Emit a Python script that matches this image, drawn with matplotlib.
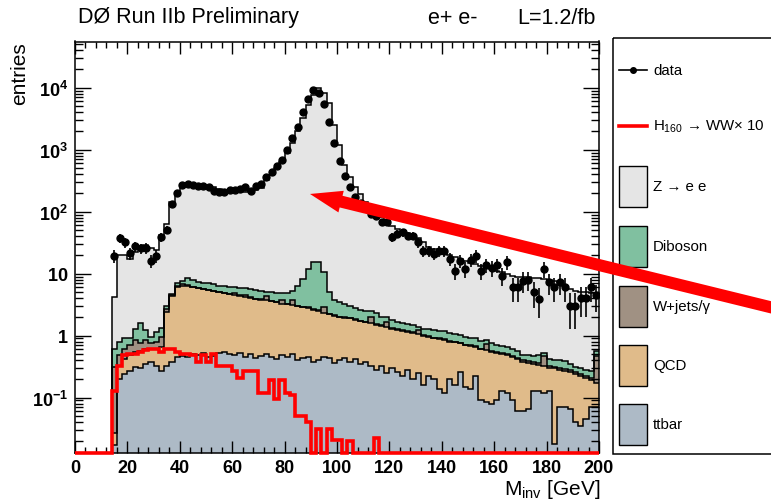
import numpy as np
import matplotlib
matplotlib.use("Agg")
import matplotlib.pyplot as plt
from matplotlib.patches import Rectangle
from matplotlib.ticker import FixedLocator, FixedFormatter, MultipleLocator, LogLocator, NullFormatter

plt.rcParams['font.family'] = ['Liberation Sans', 'DejaVu Sans']
plt.rcParams['mathtext.fontset'] = 'custom'
plt.rcParams['mathtext.rm'] = 'Liberation Sans'
plt.rcParams['mathtext.it'] = 'Liberation Sans'
plt.rcParams['mathtext.bf'] = 'Liberation Sans:bold'
plt.rcParams['mathtext.default'] = 'rm'

# 2 GeV bins from 0 to 200 GeV (first 7 bins, 0-14 GeV, are empty)
bin_edges = np.arange(0, 202, 2)

ttbar = [0, 0, 0, 0, 0, 0, 0,
         0.017, 0.20, 0.24, 0.27, 0.31, 0.30, 0.35, 0.38, 0.33, 0.27,
         0.33, 0.38, 0.45, 0.47, 0.46, 0.50, 0.48, 0.52, 0.45, 0.47,
         0.52, 0.55, 0.50, 0.48, 0.53, 0.46, 0.50, 0.44, 0.47, 0.51,
         0.45, 0.42, 0.48, 0.45, 0.50, 0.40, 0.44, 0.46, 0.38, 0.40,
         0.45, 0.43, 0.36, 0.40, 0.44, 0.38, 0.42, 0.35, 0.38, 0.32,
         0.28, 0.33, 0.25, 0.30, 0.26, 0.22, 0.28, 0.20, 0.25, 0.16,
         0.22, 0.20, 0.14, 0.12, 0.20, 0.16, 0.26, 0.15, 0.14, 0.22,
         0.09, 0.085, 0.08, 0.09, 0.13, 0.12, 0.09, 0.06, 0.06, 0.065,
         0.13, 0.13, 0.12, 0.13, 0.018, 0.07, 0.07, 0.065, 0.04, 0.035,
         0.045, 0.07, 0.07]

qcd = [0, 0, 0, 0, 0, 0, 0,
       0.010, 0.13, 0.18, 0.21, 0.24, 0.26, 0.25, 0.24, 0.27, 0.38,
       2.07, 3.92, 5.65, 5.93, 5.84, 5.50, 5.32, 5.08, 4.95, 4.73,
       4.48, 4.25, 4.20, 4.02, 3.87, 3.74, 3.60, 3.46, 3.33, 3.19,
       3.15, 3.08, 2.82, 2.75, 2.60, 2.60, 2.46, 2.34, 2.22, 2.10,
       1.85, 1.77, 1.74, 1.60, 1.51, 1.52, 1.38, 1.35, 1.27, 1.28,
       1.22, 1.12, 1.15, 1.00, 0.99, 0.98, 0.87, 0.90, 0.80, 0.84,
       0.73, 0.70, 0.74, 0.73, 0.60, 0.62, 0.49, 0.55, 0.54, 0.43,
       0.51, 0.50, 0.47, 0.43, 0.37, 0.36, 0.36, 0.36, 0.32, 0.30,
       0.22, 0.21, 0.20, 0.17, 0.28, 0.21, 0.20, 0.19, 0.20, 0.19,
       0.16, 0.12, 0.10]

wjets = [0, 0, 0, 0, 0, 0, 0,
         0.28, 0.15, 0.20, 0.22, 0.30, 0.20, 0.25, 0.15, 0.20, 0.30,
         0.30, 0.15, 0.30, 0.35, 0.30, 0.10, 0.08, 0.06, 0.05, 0.05,
         0.05, 0.05, 0.05, 0.45, 0.05, 0.40, 0.05, 0.05, 0.05, 0.60,
         0.05, 0.05, 0.50, 0.05, 0.60, 0.05, 0.05, 0.05, 0.05, 0.05,
         0.60, 0.05, 0.03, 0.03, 0.03, 0.03, 0.03, 0.03, 0.03, 0.40,
         0.03, 0.03, 0.25, 0.03, 0.03, 0.03, 0.03, 0.03, 0.20, 0.02,
         0.02, 0.02, 0.02, 0.02, 0.02, 0.02, 0.02, 0.02, 0.02, 0.02,
         0.02, 0.15, 0.02, 0.02, 0.02, 0.02, 0.02, 0.02, 0.02, 0.02,
         0.02, 0.02, 0.15, 0.02, 0.02, 0.02, 0.02, 0.02, 0.02, 0.02,
         0.02, 0.02, 0.30]

diboson = [0, 0, 0, 0, 0, 0, 0,
           0.31, 0.30, 0.28, 0.22, 0.45, 0.84, 0.40, 0.18, 0.35, 0.40,
           0.30, 0.25, 0.70, 0.95, 1.80, 1.70, 1.50, 1.50, 1.55, 1.45,
           1.35, 1.45, 1.45, 1.15, 1.45, 1.20, 1.45, 1.45, 1.35, 0.80,
           1.35, 1.35, 1.00, 1.55, 1.60, 3.35, 5.25, 9.05, 12.6, 12.7,
           7.70, 2.75, 1.67, 1.47, 1.22, 1.07, 0.97, 0.87, 0.82, 0.50,
           0.77, 0.52, 0.35, 0.47, 0.37, 0.37, 0.37, 0.37, 0.15, 0.28,
           0.33, 0.30, 0.28, 0.30, 0.27, 0.25, 0.26, 0.24, 0.22, 0.23,
           0.20, 0.12, 0.20, 0.17, 0.16, 0.16, 0.15, 0.12, 0.08, 0.10,
           0.10, 0.12, 0.06, 0.10, 0.09, 0.10, 0.10, 0.07, 0.05, 0.06,
           0.05, 0.06, 0.10]

zee = [0, 0, 0, 0, 0, 0, 0,
       3.6, 19.2, 19.1, 16.6, 20.7, 25.4, 27.8, 25.1, 22.9, 40.7,
       60, 137, 199, 267, 282, 274, 265, 258, 251, 243,
       229, 216, 206, 202, 202, 204, 208, 217, 235, 315,
       390, 495, 625, 865, 1255, 2014, 3222, 5258, 7585, 9785,
       8189, 5595, 2496, 1196, 557, 357, 247, 187, 142, 115,
       92.7, 80, 68, 56.2, 50.3, 46.4, 43.4, 40.5, 36.6, 30.7,
       25.7, 23.8, 22.3, 20.8, 18.9, 17.5, 16.3, 15.0, 14.1, 13.3,
       12.6, 11.75, 11.1, 10.5, 9.9, 9.1, 8.6, 8.4, 8.3, 8.2,
       8.1, 8.0, 7.8, 7.6, 7.2, 6.6, 5.9, 5.4, 5.0, 4.8,
       4.7, 4.6, 4.1]

higgs_x10 = [0, 0, 0, 0, 0, 0, 0,
             0.13, 0.33, 0.48, 0.51, 0.51, 0.54, 0.59, 0.60, 0.60, 0.54,
             0.60, 0.60, 0.54, 0.51, 0.51, 0.48, 0.38, 0.48, 0.38, 0.51,
             0.33, 0.33, 0.33, 0.27, 0.21, 0.27, 0.27, 0.27, 0.12, 0.12,
             0.19, 0.095, 0.19, 0.12, 0.11, 0.051, 0.051, 0.04, 0, 0.031,
             0, 0.031, 0.021, 0.021, 0, 0.02, 0, 0, 0, 0,
             0.022, 0, 0, 0, 0, 0, 0, 0, 0, 0,
             0, 0, 0, 0, 0, 0, 0, 0, 0, 0,
             0, 0, 0, 0, 0, 0, 0, 0, 0, 0,
             0, 0, 0, 0, 0, 0, 0, 0, 0, 0,
             0, 0, 0]

data = [0, 0, 0, 0, 0, 0, 0,
        19.5, 37.7, 32, 21.3, 27.6, 25.6, 26, 16.2, 19.5, 38.6,
        50.8, 134, 202, 267, 284, 271, 264, 258, 252, 214,
        209, 206, 222, 220, 228, 252, 214, 258, 275, 364,
        432, 540, 690, 1000, 1540, 2360, 4110, 6500, 9150, 8100,
        5500, 2820, 1300, 665, 373, 248, 174, 136, 117, 92,
        84, 69, 68, 38.7, 43.6, 46.5, 41, 41, 32, 23.5,
        23.5, 21, 23.5, 23.5, 17.3, 11.2, 16.2, 11.9, 16.8, 19.5,
        11.2, 13.8, 12.3, 13.8, 9.3, 15.3, 6.0, 6.0, 7.7, 8.0,
        5.0, 3.9, 11.9, 7.3, 6.0, 7.3, 6.0, 3.05, 3.05, 4.0,
        4.0, 6.0, 4.5]

labels = ['ttbar', 'QCD', 'W+jets/\u03b3', 'Diboson', 'Z \u2192 e e']
colors = ['#adbac6', '#e0bb8a', '#a09183', '#80c0a0', '#e5e5e5']

ymin, ymax = 0.0128, 5.56e4

fig = plt.figure(figsize=(7.71, 5.02), dpi=100)
ax = fig.add_axes([75 / 771, 48 / 502, 524 / 771, 411.5 / 502])

# stacked histogram, ROOT style (filled, black outlines)
cum = np.cumsum(np.array([ttbar, qcd, wjets, diboson, zee], float), axis=0)
for level, col in zip(cum[::-1], colors[::-1]):
    ax.stairs(np.clip(level, ymin, None), bin_edges, baseline=ymin, fill=True,
              facecolor=col, edgecolor='none', lw=0, zorder=1)
for level in cum:
    ax.stairs(np.clip(level, ymin, None), bin_edges, baseline=None,
              color='black', lw=1.1, zorder=2)

# signal x10
ax.stairs(np.clip(np.array(higgs_x10, float), ymin, None), bin_edges, baseline=None,
          color='red', lw=2.6, zorder=4, clip_on=False)

# data points
centers = bin_edges[:-1] + 1
d = np.array(data, float)
m = d > 0
err = np.sqrt(d[m])
ax.errorbar(centers[m], d[m], yerr=[np.minimum(err, d[m] * 0.999), err],
            fmt='o', ms=5.0, color='black', ecolor='black', elinewidth=1.2,
            capsize=0, zorder=6)

ax.set_xlim(0, 200)
ax.set_yscale('log')
ax.set_ylim(ymin, ymax)

ax.xaxis.set_major_locator(MultipleLocator(20))
ax.xaxis.set_minor_locator(MultipleLocator(4))
ax.set_xticks(np.arange(0, 201, 20))
ax.set_xticklabels([str(v) for v in range(0, 201, 20)], fontweight='bold', fontsize=13)

ax.yaxis.set_major_locator(FixedLocator([0.1, 1, 10, 100, 1000, 10000]))
ax.yaxis.set_major_formatter(FixedFormatter([r'$\mathbf{10^{-1}}$', r'$\mathbf{1}$', r'$\mathbf{10}$',
                                             r'$\mathbf{10^{2}}$', r'$\mathbf{10^{3}}$', r'$\mathbf{10^{4}}$']))
ax.yaxis.set_minor_locator(LogLocator(base=10, subs=np.arange(2, 10), numticks=20))
ax.yaxis.set_minor_formatter(NullFormatter())

ax.tick_params(axis='x', which='major', direction='in', top=True, length=8.5, width=1.0, pad=4)
ax.tick_params(axis='x', which='minor', direction='in', top=True, length=4.3, width=1.0)
ax.tick_params(axis='y', which='major', direction='in', right=True, length=11.5, width=1.0,
               labelsize=13, pad=5)
ax.tick_params(axis='y', which='minor', direction='in', right=True, length=5.8, width=1.0)
for sp in ax.spines.values():
    sp.set_linewidth(1.1)

# texts
fig.text(78 / 771, 1 - 18 / 502, 'D\u00d8 Run IIb Preliminary', fontsize=15.5, va='center', ha='left')
fig.text(428 / 771, 1 - 18 / 502, 'e+ e-', fontsize=15.5, va='center', ha='left')
fig.text(517 / 771, 1 - 18 / 502, 'L=1.2/fb', fontsize=15.5, va='center', ha='left')
fig.text(20 / 771, 1 - 42.5 / 502, 'entries', rotation=90, ha='center', va='top', fontsize=15)
fig.text(600 / 771, 1 - 490 / 502, r'M$_{inv}$ [GeV]', ha='right', va='center', fontsize=15)

# legend box drawn in pixel coordinates
lax = fig.add_axes([0, 0, 1, 1])
lax.set_xlim(0, 771)
lax.set_ylim(502, 0)
lax.axis('off')
lax.add_patch(Rectangle((613, 39), 200, 416, fill=False, ec='black', lw=1.1))

lax.plot([619, 647], [71, 71], color='black', lw=1.2)
lax.plot([633], [71], 'o', ms=4, color='black')
lax.text(653, 71, 'data', va='center', fontsize=10.8)
lax.plot([619, 647], [127, 127], color='red', lw=2.6)
lax.text(653, 127, r'H$_{160}$' + ' \u2192 WW\u00d7 10', va='center', fontsize=10.8)

box_y = [425, 366, 307, 247, 187]
for yc, lab, col in zip(box_y, labels, colors):
    lax.add_patch(Rectangle((619, yc - 20.5), 28, 41, fc=col, ec='black', lw=1.0))
    lax.text(653, yc, lab, va='center', fontsize=10.8)

# red arrow pointing at the Z peak region
lax.annotate('', xy=(89.7, 193), xycoords=ax.transData, xytext=(790, 313), textcoords='data',
             arrowprops=dict(arrowstyle='simple,head_length=1.44,head_width=1.0,tail_width=0.54',
                             mutation_scale=16, color='red', lw=0, shrinkA=0, shrinkB=0),
             annotation_clip=False)

fig.savefig('out.png', dpi=100)
